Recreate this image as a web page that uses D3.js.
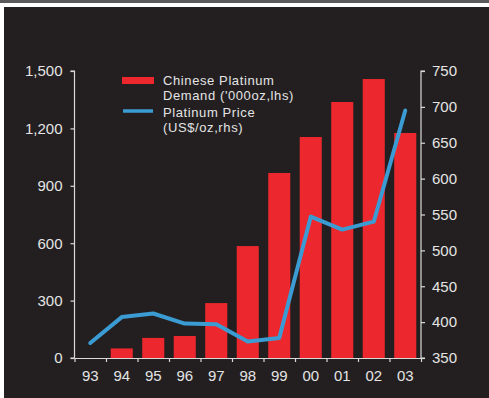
<!DOCTYPE html>
<html>
<head>
<meta charset="utf-8">
<script src="https://cdn.jsdelivr.net/npm/d3@7"></script>
<style>
  html, body { margin: 0; padding: 0; background: #ffffff; }
  svg { display: block; font-family: "Liberation Sans", Arial, sans-serif; }
</style>
</head>
<body>
<svg id="chart" width="489" height="398"></svg>
<script>
// Years on the category axis
const years = ["93", "94", "95", "96", "97", "98", "99", "00", "01", "02", "03"];
// Chinese platinum demand, '000 oz (left axis)
const demand = [0, 50, 105, 115, 287, 585, 967, 1155, 1338, 1458, 1176];
// Platinum price, US$/oz (right axis)
const price = [371, 407, 412, 398, 397, 373, 378, 547, 529, 540, 695];
// Axis tick values
const leftTicks = [0, 300, 600, 900, 1200, 1500];
const rightTicks = [350, 400, 450, 500, 550, 600, 650, 700, 750];
// Legend entries
const legendItems = [
  { kind: "bar", lines: ["Chinese Platinum", "Demand ('000oz,lhs)"] },
  { kind: "line", lines: ["Platinum Price", "(US$/oz,rhs)"] }
];

const W = 489, H = 398;
const plot = { left: 74.5, right: 421, top: 71, bottom: 358 };
const BG = "#231f20", RED = "#ec282e", BLUE = "#3b9bd3", INK = "#e4e4e4", AXIS = "#d9d9d9";

const svg = d3.select("#chart");

// Frame: thin grey rule at the very top, then the dark panel
svg.append("rect").attr("x", 0).attr("y", 0).attr("width", W).attr("height", 3).attr("fill", "#5a5a5c");
svg.append("rect").attr("x", 4).attr("y", 7).attr("width", W - 4).attr("height", H - 7).attr("fill", BG);

const x = d3.scaleBand().domain(years).range([plot.left, plot.right]).paddingInner(0.3).paddingOuter(0.15);
const xEdges = d3.scaleLinear().domain([0, years.length]).range([plot.left, plot.right]);
const yL = d3.scaleLinear().domain([0, 1500]).range([plot.bottom, plot.top]);
const yR = d3.scaleLinear().domain([350, 750]).range([plot.bottom, plot.top]);

// Bars
svg.append("g").selectAll("rect").data(years).join("rect")
  .attr("x", d => x(d))
  .attr("width", x.bandwidth())
  .attr("y", (d, i) => yL(demand[i]))
  .attr("height", (d, i) => yL(0) - yL(demand[i]))
  .attr("fill", RED);

// Price line
const line = d3.line()
  .x((d, i) => x(years[i]) + x.bandwidth() / 2)
  .y(d => yR(d));
svg.append("path").datum(price)
  .attr("d", line)
  .attr("fill", "none")
  .attr("stroke", BLUE)
  .attr("stroke-width", 4)
  .attr("stroke-linejoin", "round")
  .attr("stroke-linecap", "round");

function styleAxis(g) {
  g.selectAll("path, line").attr("stroke", AXIS).attr("stroke-width", 1.2);
  g.selectAll("text").attr("fill", INK).attr("font-size", 15);
}

// Left axis
svg.append("g").attr("transform", `translate(${plot.left},0)`)
  .call(d3.axisLeft(yL).tickValues(leftTicks).tickSize(4).tickSizeOuter(4).tickPadding(8).tickFormat(d3.format(",")))
  .call(styleAxis)
  .call(g => g.select(".domain").attr("d", `M-4,${plot.top}H0V${plot.bottom}H-4`));

// Right axis
svg.append("g").attr("transform", `translate(${plot.right},0)`)
  .call(d3.axisRight(yR).tickValues(rightTicks).tickSize(4).tickSizeOuter(4).tickPadding(7))
  .call(styleAxis)
  .call(g => g.select(".domain").attr("d", `M4,${plot.top}H0V${plot.bottom}H4`));

// Bottom axis: tick marks at the category boundaries, labels centred in each band
svg.append("g").attr("transform", `translate(0,${plot.bottom})`)
  .call(d3.axisBottom(xEdges).tickValues(d3.range(years.length + 1)).tickSize(4).tickSizeOuter(0).tickFormat(""))
  .call(styleAxis);
svg.append("g").attr("transform", `translate(0,${plot.bottom})`)
  .call(d3.axisBottom(x).tickSize(0).tickPadding(12))
  .call(styleAxis)
  .call(g => g.select(".domain").remove());

// Legend: each entry's label wraps over two lines
const legend = svg.append("g");
const legendTop = [85, 117];
const lineGap = 14.6;
legendItems.forEach((item, k) => {
  const base = legendTop[k];
  if (item.kind === "bar") {
    legend.append("rect").attr("x", 122).attr("y", base - 8).attr("width", 32).attr("height", 7).attr("fill", RED);
  } else {
    legend.append("line").attr("x1", 123).attr("x2", 153).attr("y1", base - 6).attr("y2", base - 6)
      .attr("stroke", BLUE).attr("stroke-width", 3.5);
  }
  item.lines.forEach((t, j) => {
    legend.append("text").attr("x", 163).attr("y", base + j * lineGap)
      .attr("fill", INK).attr("font-size", 13).attr("letter-spacing", 0.6).text(t);
  });
});
</script>
</body>
</html>
